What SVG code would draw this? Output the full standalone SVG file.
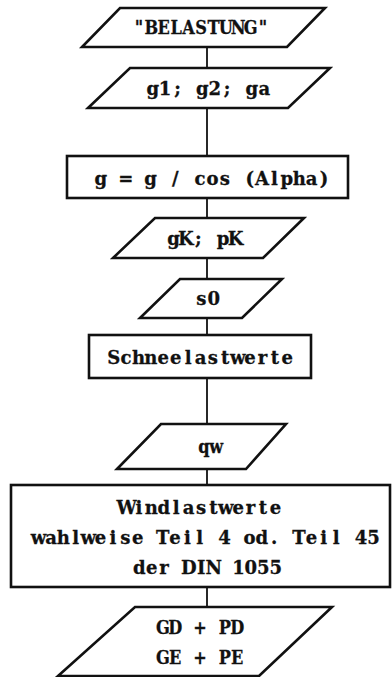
<svg xmlns="http://www.w3.org/2000/svg" width="392" height="677" viewBox="0 0 392 677">
<style>
.s{fill:#fff;stroke:#111;stroke-width:2.6;stroke-linejoin:miter}
.c{stroke:#111;stroke-width:1.8;fill:none}
text{font-family:"DejaVu Serif","Liberation Serif",serif;font-weight:bold;font-size:19px;fill:#111;stroke:#111;stroke-width:0.3;text-anchor:middle}
</style>
<rect width="392" height="677" fill="#fff"/>
<g id="connectors">
<line class="c" x1="207" y1="47" x2="207" y2="68"/>
<line class="c" x1="207" y1="108" x2="207" y2="156"/>
<line class="c" x1="207" y1="198" x2="207" y2="218"/>
<line class="c" x1="207" y1="258" x2="207" y2="279"/>
<line class="c" x1="207" y1="318" x2="207" y2="335"/>
<line class="c" x1="207" y1="378" x2="207" y2="424"/>
<line class="c" x1="207" y1="469" x2="207" y2="485"/>
<line class="c" x1="207" y1="587" x2="207" y2="607"/>
</g>
<g id="n1">
<polygon class="s" points="120,8 325,8 287,47 82,47"/>
<g transform="translate(201,0) scale(0.85,1)"><text x="-72.9 -58.4 -43.8 -29.2 -14.6 0 14.6 29.2 43.8 58.4 72.9" y="34">"BELASTUNG"</text></g>
</g>
<g id="n2">
<polygon class="s" points="130,68 330,68 288,108 88,108"/>
<g transform="translate(208.5,0) scale(0.95,1)"><text x="-58.74 -45.69 -32.63 -19.58 -6.53 6.53 19.58 32.63 45.69 58.74" y="95">g1; g2; ga</text></g>
</g>
<g id="n3">
<rect class="s" x="67" y="156" width="281" height="42"/>
<g transform="translate(212.5,0) scale(0.95,1)"><text x="-117.48 -104.42 -91.37 -78.32 -65.27 -52.21 -39.16 -26.11 -13.05 0 13.05 26.11 39.16 52.21 65.27 78.32 91.37 104.42 117.48" y="185">g = g / cos (Alpha)</text></g>
</g>
<g id="n4">
<polygon class="s" points="155,218 304,218 263,258 113,258"/>
<g transform="translate(204.5,0) scale(0.95,1)"><text x="-32.63 -19.58 -6.53 6.53 19.58 32.63" y="245">gK; pK</text></g>
</g>
<g id="n5">
<polygon class="s" points="180,279 282,279 242,318 140,318"/>
<g transform="translate(207.5,0) scale(0.95,1)"><text x="-6.53 6.53" y="305">s0</text></g>
</g>
<g id="n6">
<rect class="s" x="89" y="335" width="222" height="43"/>
<g transform="translate(200.5,0) scale(0.95,1)"><text x="-91.37 -78.32 -65.27 -52.21 -39.16 -26.11 -13.05 0 13.05 26.11 39.16 52.21 65.27 78.32 91.37" y="364">Schneelastwerte</text></g>
</g>
<g id="n7">
<polygon class="s" points="161,424 286,424 246,469 117,469"/>
<g transform="translate(210,0) scale(0.85,1)"><text x="-7.3 7.3" y="453">qw</text></g>
</g>
<g id="n8">
<rect class="s" x="11" y="485" width="379" height="102"/>
<g transform="translate(201,0) scale(0.95,1)"><text x="-78.32 -65.27 -52.21 -39.16 -26.11 -13.05 0 13.05 26.11 39.16 52.21 65.27 78.32" y="514">Windlastwerte</text></g>
<g transform="translate(206,0) scale(0.95,1)"><text x="-176.22 -163.16 -150.11 -137.06 -124 -110.95 -97.9 -84.84 -71.79 -58.74 -45.69 -32.63 -19.58 -6.53 6.53 19.58 32.63 45.69 58.74 71.79 84.84 97.9 110.95 124 137.06 150.11 163.16 176.22" y="544">wahlweise Teil 4 od. Teil 45</text></g>
<g transform="translate(207.5,0) scale(0.95,1)"><text x="-71.79 -58.74 -45.69 -32.63 -19.58 -6.53 6.53 19.58 32.63 45.69 58.74 71.79" y="574">der DIN 1055</text></g>
</g>
<g id="n9">
<polygon class="s" points="135,607 332,607 259,676 58,676"/>
<g transform="translate(200,0) scale(0.85,1)"><text x="-43.8 -29.2 -14.6 0 14.6 29.2 43.8" y="634">GD + PD</text></g>
<g transform="translate(200,0) scale(0.85,1)"><text x="-43.8 -29.2 -14.6 0 14.6 29.2 43.8" y="664">GE + PE</text></g>
</g>
</svg>
